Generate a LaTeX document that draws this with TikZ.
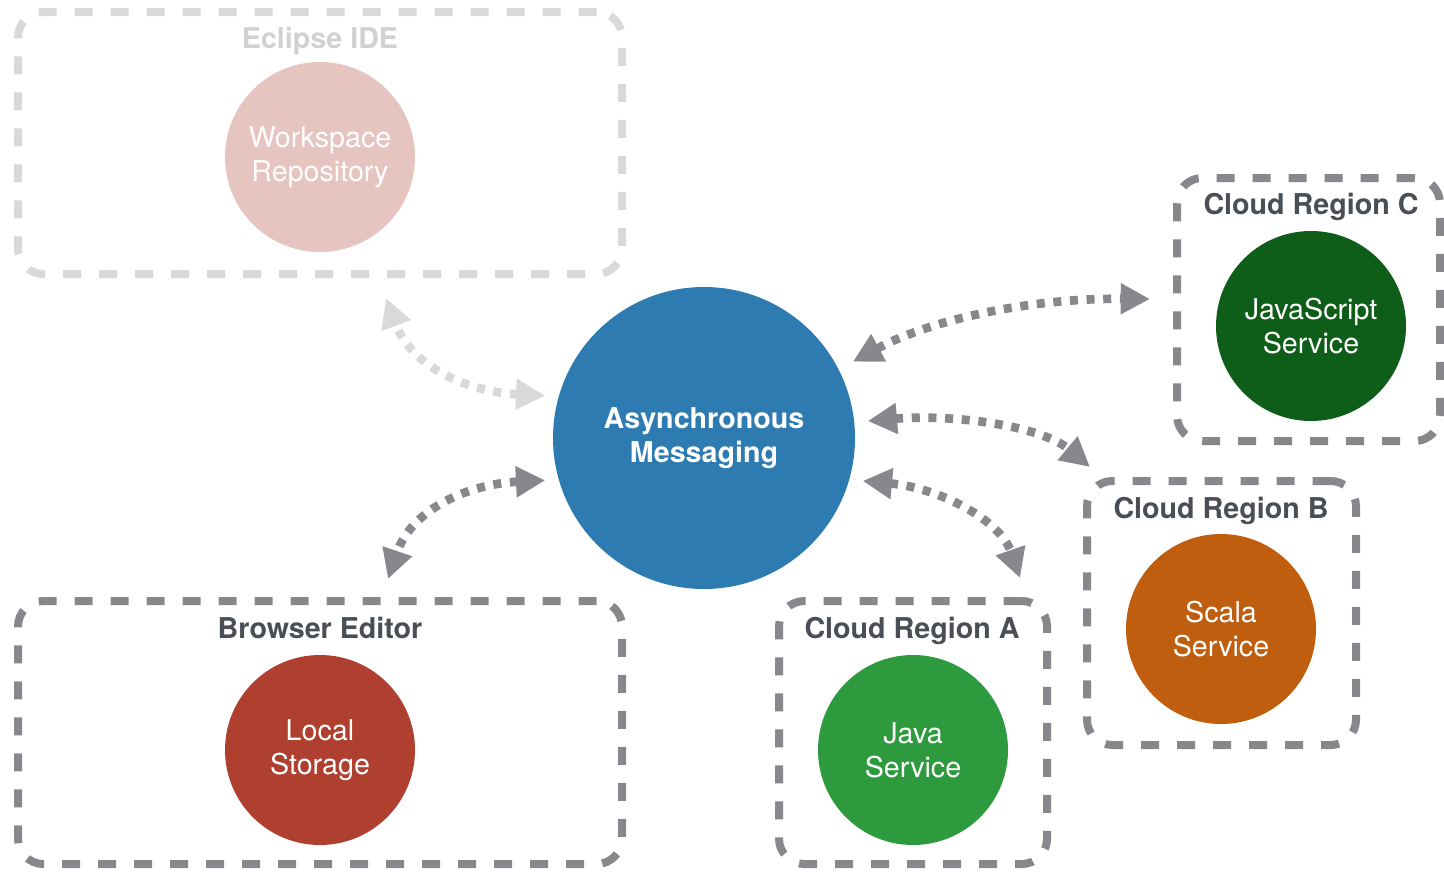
\documentclass[tikz,border=0pt]{standalone}
\usepackage{fontspec}
\setmainfont{TeX Gyre Heros}
\usepackage{tikz}
\usetikzlibrary{arrows.meta}

\definecolor{msgblue}{HTML}{2D7BB0}
\definecolor{jsgreen}{HTML}{0E5D18}
\definecolor{javagreen}{HTML}{2E9A3E}
\definecolor{scalaorange}{HTML}{BF5E0F}
\definecolor{storagered}{HTML}{AF3F2F}
\definecolor{repopink}{HTML}{E6C4BF}
\definecolor{linkgray}{HTML}{86888C}
\definecolor{fadegray}{HTML}{D8D9DB}
\definecolor{fadetext}{HTML}{D0D1D3}
\definecolor{titlegray}{HTML}{4A4E55}

\begin{document}
\begin{tikzpicture}[x=0.75pt,y=0.75pt,yscale=-1,xscale=1,
  region/.style={draw=linkgray, line width=6pt, dash pattern=on 13.5pt off 13.5pt, rounded corners=19pt, inner sep=0pt},
  title/.style={anchor=base, text=titlegray, font=\fontsize{21.5}{25.5}\selectfont\bfseries, inner sep=0.75pt},
  svc/.style={circle, minimum size=142.5pt, inner sep=0pt, align=center, text=white, font=\fontsize{21.5}{25.5}\selectfont},
  link/.style={draw=linkgray, line width=6.5pt, dash pattern=on 6pt off 6.5pt, {Triangle[length=22pt,width=22pt]}-{Triangle[length=22pt,width=22pt]}}]
\path[use as bounding box] (0,0) rectangle (1444,871);

%Shape: Rounded Rect [Eclipse IDE]
\node[region, draw=fadegray, minimum width=453pt, minimum height=196.5pt] (ide) at (320,143) {};
%Shape: Rounded Rect [Browser Editor]
\node[region, minimum width=453pt, minimum height=197.25pt] (browser) at (320,732.5) {};
%Shape: Rounded Rect [Cloud Region A]
\node[region, minimum width=201pt, minimum height=197.25pt] (regionA) at (913,732.5) {};
%Shape: Rounded Rect [Cloud Region B]
\node[region, minimum width=201.75pt, minimum height=198pt] (regionB) at (1221.5,613) {};
%Shape: Rounded Rect [Cloud Region C]
\node[region, minimum width=197.25pt, minimum height=197.25pt] (regionC) at (1308.5,309.5) {};

% Text Node
\node[title, text=fadetext] (ideTitle) at (320,48) {Eclipse IDE};
% Text Node
\node[title] (browserTitle) at (320,638) {Browser Editor};
% Text Node
\node[title] (regionATitle) at (912,638) {Cloud Region A};
% Text Node
\node[title] (regionBTitle) at (1221,518) {Cloud Region B};
% Text Node
\node[title] (regionCTitle) at (1311,214) {Cloud Region C};

%Shape: Circle
\node[svc, fill=repopink] (repo) at (320,157) {Workspace\\Repository};
%Shape: Circle
\node[svc, fill=storagered] (storage) at (320,750) {Local\\Storage};
%Shape: Circle
\node[svc, fill=javagreen] (java) at (913,750) {Java\\Service};
%Shape: Circle
\node[svc, fill=scalaorange] (scala) at (1221,629) {Scala\\Service};
%Shape: Circle
\node[svc, fill=jsgreen] (js) at (1311,326) {JavaScript\\Service};
%Shape: Circle
\node[svc, fill=msgblue, minimum size=226.5pt, font=\fontsize{21.5}{25.5}\selectfont\bfseries] (msg) at (704,438) {Asynchronous\\Messaging};

% free arrow ends
\coordinate (ideEnd) at (386,298);
\coordinate (browserEnd) at (388,579);
\coordinate (regionCEnd) at (1150,299);
\coordinate (regionBEnd) at (1090,467);
\coordinate (regionAEnd) at (1020,578);

%Curve Lines
\draw[link, draw=fadegray, shorten <=10pt] (msg.164) .. controls (470,392) and (412,368) .. (ideEnd);
\draw[link, shorten <=10pt] (msg.196) .. controls (470,484) and (412,508) .. (browserEnd);
\draw[link, shorten <=12pt] (msg.27) .. controls (930,320) and (1030,298) .. (regionCEnd);
\draw[link, shorten <=10pt] (msg.6) .. controls (950,414) and (1040,425) .. (regionBEnd);
\draw[link, shorten <=10pt] (msg.344) .. controls (940,488) and (1000,520) .. (regionAEnd);
\end{tikzpicture}
\end{document}
